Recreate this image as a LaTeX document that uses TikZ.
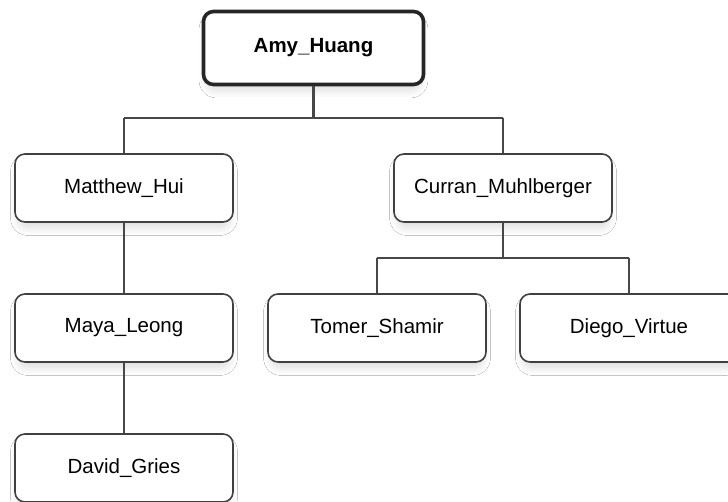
\documentclass[tikz,border=0pt]{standalone}
\usepackage{fontspec}
\setmainfont{Liberation Sans}
\usetikzlibrary{shadows.blur}
\tikzset{
  person/.style={draw=black!75, line width=1.6pt, rounded corners=10pt, fill=white,
    minimum width=218pt, minimum height=68pt, inner sep=0pt,
    font=\fontsize{20.5pt}{24pt}\selectfont,
    blur shadow={shadow blur steps=10, shadow xshift=0pt, shadow yshift=-7pt, shadow opacity=14, shadow blur radius=8pt, shadow scale=0.97}},
  root/.style={person, line width=3.6pt, draw=black!85, minimum width=220pt, minimum height=73pt,
    font=\fontsize{20.5pt}{24pt}\selectfont\bfseries},
  link/.style={draw=black!72, line width=2.8pt}
}
\begin{document}
\begin{tikzpicture}[x=1pt,y=-1pt]
\useasboundingbox[fill=white] (0,0) rectangle (728,502);
\node[root] (amy) at (313.5,48) {Amy\_Huang};
\node[person] (matthew) at (124,188) {Matthew\_Hui};
\node[person] (curran) at (503,188) {Curran\_Muhlberger};
\node[person] (maya) at (124,328) {Maya\_Leong};
\node[person] (tomer) at (377,328) {Tomer\_Shamir};
\node[person] (diego) at (629,328) {Diego\_Virtue};
\node[person] (david) at (124,468) {David\_Gries};
\coordinate (j1) at (313.5,118);
\coordinate (j2) at (503,258);
\draw[link] (amy.south) -- (j1);
\draw[link] (j1 -| matthew.north) -- (j1 -| curran.north);
\draw[link] (j1 -| matthew.north) -- (matthew.north);
\draw[link] (j1 -| curran.north) -- (curran.north);
\draw[link] (matthew.south) -- (maya.north);
\draw[link] (maya.south) -- (david.north);
\draw[link] (curran.south) -- (j2);
\draw[link] (j2 -| tomer.north) -- (j2 -| diego.north);
\draw[link] (j2 -| tomer.north) -- (tomer.north);
\draw[link] (j2 -| diego.north) -- (diego.north);
\end{tikzpicture}
\end{document}
